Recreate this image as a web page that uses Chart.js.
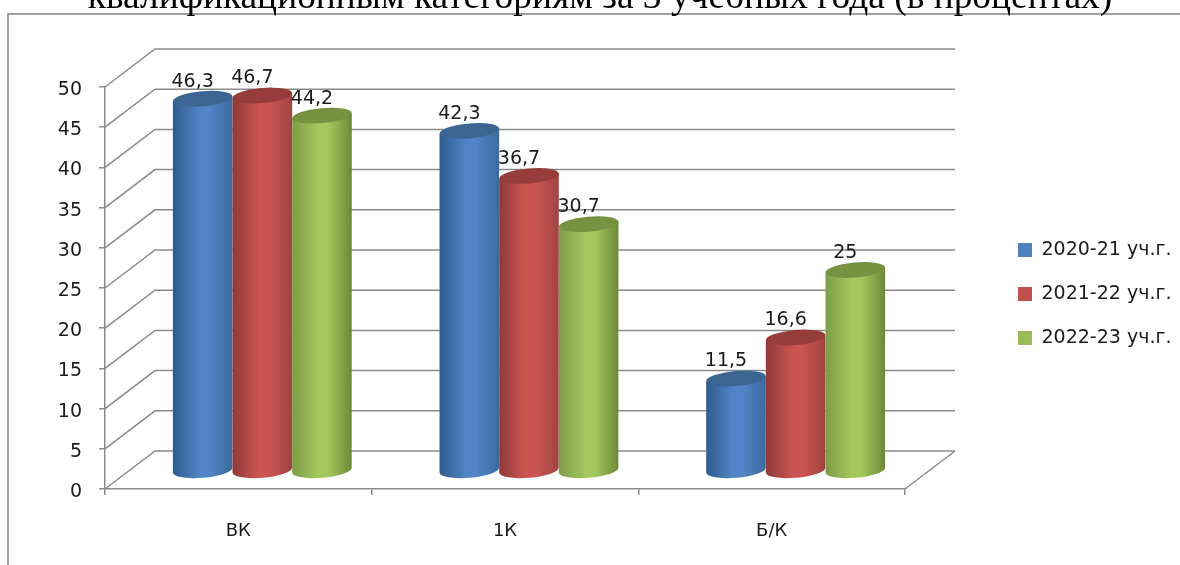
<!DOCTYPE html>
<html>
<head>
<meta charset="utf-8">
<style>
  html, body { margin: 0; padding: 0; background: #fff; overflow: hidden; }
  #wrap { position: relative; width: 1180px; height: 565px; overflow: hidden; }
  #title { position: absolute; left: 0; top: -26px; width: 1180px; padding-left: 20px; box-sizing: border-box; text-align: center;
           font: 37.4px "Liberation Serif", serif; color: #000; white-space: nowrap; z-index: 2; }
  canvas { position: absolute; left: 0; top: 0; }
</style>
</head>
<body>
<div id="wrap">
  <div id="title">квалификационным категориям за 3 учебных года (в процентах)</div>
  <canvas id="chart" width="1180" height="565"></canvas>
</div>
<script src="https://cdn.jsdelivr.net/npm/chart.js@4"></script>
<script>
var categories = ['ВК', '1К', 'Б/К'];
var series_names = ['2020-21 уч.г.', '2021-22 уч.г.', '2022-23 уч.г.'];
var values_2020 = [46.3, 42.3, 11.5];
var values_2021 = [46.7, 36.7, 16.6];
var values_2022 = [44.2, 30.7, 25];

var line_color = '#8a8a8a';
var base_colors = ['#4f81bd', '#c0504d', '#9bbb59'];
// left edge, middle, right edge, top cap
var shades = [
    ['#2f5a8c', '#5285c8', '#3d6a9e', '#3b6592'],
    ['#8f3a38', '#cc5552', '#a04442', '#963c3a'],
    ['#7f9c48', '#a4c85e', '#6d8838', '#76913f']
];
var font_name = '"DejaVu Sans", sans-serif';

// depth of the back wall and of the bars inside the box
var wall_dx = 50, wall_dy = -38;
var bar_dx = 24, bar_dy = -18;

var box3d = {
    id: 'box3d',
    beforeLayout: function (chart) {
        var lg = chart.legend;
        if (!lg.fit_wide) {
            var fit = lg.fit;
            lg.fit = function () { fit.call(this); this.width = 275; };
            lg.fit_wide = true;
        }
    },
    afterLayout: function (chart) {
        var lg = chart.legend;
        lg.left = 1018 - lg.options.labels.padding;
        lg.top -= 32;
        lg.bottom -= 32;
    },
    beforeDraw: function (chart) {
        var ctx = chart.ctx;
        ctx.save();
        ctx.strokeStyle = '#808080';
        ctx.lineWidth = 1.5;
        ctx.beginPath();
        ctx.moveTo(8, 565);
        ctx.lineTo(8, 14);
        ctx.lineTo(1180, 14);
        ctx.stroke();
        ctx.restore();
    },
    // returning false: native flat bars are replaced by cylinders
    beforeDatasetsDraw: function (chart) {
        var ctx = chart.ctx, y = chart.scales.y, a = chart.chartArea;
        ctx.save();
        ctx.strokeStyle = line_color;
        ctx.lineWidth = 1.5;
        y.ticks.forEach(function (t) {
            var py = y.getPixelForValue(t.value);
            ctx.beginPath();
            ctx.moveTo(a.left, py);
            ctx.lineTo(a.left + wall_dx, py + wall_dy);
            ctx.lineTo(a.right + wall_dx, py + wall_dy);
            ctx.stroke();
        });
        ctx.beginPath();
        ctx.moveTo(a.right, a.bottom);
        ctx.lineTo(a.right + wall_dx, a.bottom + wall_dy);
        ctx.stroke();

        chart.data.datasets.forEach(function (ds, i) {
            chart.getDatasetMeta(i).data.forEach(function (el) {
                drawCylinder(ctx, el, shades[i]);
            });
        });

        ctx.fillStyle = '#1a1a1a';
        ctx.font = '19px ' + font_name;
        ctx.textAlign = 'center';
        ctx.textBaseline = 'middle';
        chart.data.datasets.forEach(function (ds, i) {
            chart.getDatasetMeta(i).data.forEach(function (el, j) {
                var txt = String(ds.data[j]).replace('.', ',');
                ctx.fillText(txt, el.x + bar_dx - 10, el.y + bar_dy - 17);
            });
        });
        ctx.restore();
        return false;
    }
};

function drawCylinder(ctx, el, c) {
    var cx = el.x + bar_dx, top = el.y + bar_dy, bottom = el.base + bar_dy;
    var r = el.width / 2, ry = 7.5, tilt = -5 * Math.PI / 180;
    var lift = r * Math.sin(-tilt);

    var g = ctx.createLinearGradient(cx - r, 0, cx + r, 0);
    g.addColorStop(0, c[0]);
    g.addColorStop(0.45, c[1]);
    g.addColorStop(0.6, c[1]);
    g.addColorStop(1, c[2]);

    ctx.beginPath();
    ctx.moveTo(cx - r, top + lift);
    ctx.lineTo(cx - r, bottom + lift);
    ctx.ellipse(cx, bottom, r, ry, tilt, Math.PI, 0, true);
    ctx.lineTo(cx + r, top - lift);
    ctx.closePath();
    ctx.fillStyle = g;
    ctx.fill();

    ctx.beginPath();
    ctx.ellipse(cx, top, r, ry, tilt, 0, Math.PI * 2);
    ctx.fillStyle = c[3];
    ctx.fill();
}

new Chart(document.getElementById('chart'), {
    type: 'bar',
    data: {
        labels: categories,
        datasets: [
            { label: series_names[0], data: values_2020, backgroundColor: base_colors[0] },
            { label: series_names[1], data: values_2021, backgroundColor: base_colors[1] },
            { label: series_names[2], data: values_2022, backgroundColor: base_colors[2] }
        ]
    },
    plugins: [box3d],
    options: {
        responsive: false,
        animation: false,
        categoryPercentage: 0.671,
        barPercentage: 1,
        layout: { padding: { top: 87, left: 0, right: 0, bottom: 0 } },
        plugins: {
            tooltip: { enabled: false },
            legend: {
                position: 'right',
                labels: {
                    boxWidth: 14, boxHeight: 14, padding: 25, color: '#1a1a1a',
                    font: { family: font_name, size: 19 }
                }
            }
        },
        scales: {
            x: {
                afterFit: function (s) { s.height = 76; },
                grid: { drawOnChartArea: false, color: line_color, lineWidth: 1.5, tickLength: 6 },
                border: { color: line_color, width: 1.5 },
                ticks: { color: '#1a1a1a', padding: 26, font: { family: font_name, size: 18 } }
            },
            y: {
                min: 0,
                max: 50,
                afterFit: function (s) { s.width = 105; },
                grid: { drawOnChartArea: false, color: line_color, lineWidth: 1.5, tickLength: 6 },
                border: { color: line_color, width: 1.5 },
                ticks: { stepSize: 5, color: '#1a1a1a', padding: 17, labelOffset: 3, font: { family: font_name, size: 19 } }
            }
        }
    }
});
</script>
</body>
</html>
